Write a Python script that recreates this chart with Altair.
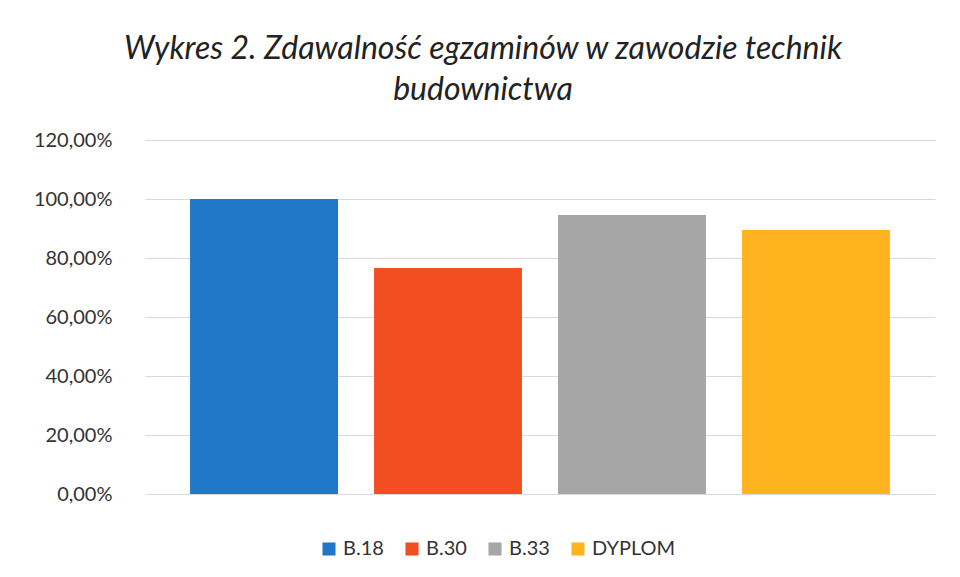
import altair as alt
import pandas as pd

categories = ["B.18", "B.30", "B.33", "DYPLOM"]
values = [1.00, 0.766, 0.946, 0.895]
colors = ["#1F77C8", "#F24E22", "#A6A6A6", "#FFB31F"]
title_lines = ["Wykres 2. Zdawalność egzaminów w zawodzie technik", "budownictwa"]

df = pd.DataFrame({"kategoria": categories, "wartosc": values})

chart = alt.Chart(df).mark_bar().encode(
    x=alt.X("kategoria:N", sort=categories, axis=None,
            scale=alt.Scale(paddingInner=0.196, paddingOuter=0.245)),
    y=alt.Y("wartosc:Q",
            scale=alt.Scale(domain=[0, 1.2]),
            axis=alt.Axis(values=[0, 0.2, 0.4, 0.6, 0.8, 1.0, 1.2],
                          labelExpr="replace(format(datum.value, '.2%'), '.', ',')",
                          title=None, domain=False, ticks=False,
                          labelPadding=33, labelFontSize=20, labelFont="Lato",
                          labelColor="#333333", gridColor="#D9D9D9")),
    color=alt.Color("kategoria:N", sort=categories,
                    scale=alt.Scale(domain=categories, range=colors),
                    legend=alt.Legend(title=None, orient="none", direction="horizontal",
                                      legendX=174, legendY=399,
                                      symbolType="square", symbolSize=170,
                                      symbolStrokeWidth=0,
                                      labelFontSize=20, labelFont="Lato",
                                      labelColor="#333333", columnPadding=18)),
).properties(
    width=790, height=354,
    autosize=alt.AutoSizeParams(type="none"),
    padding={"left": 137, "top": 132, "right": 17, "bottom": 75},
    title=alt.Title(title_lines, font="Lato", fontSize=32, fontStyle="italic",
                    fontWeight="normal", color="#222222", anchor="middle",
                    dx=-57, offset=23, lineHeight=41),
).configure_view(stroke=None)

chart.save("out.html", embed_options={"renderer": "svg", "actions": False})
